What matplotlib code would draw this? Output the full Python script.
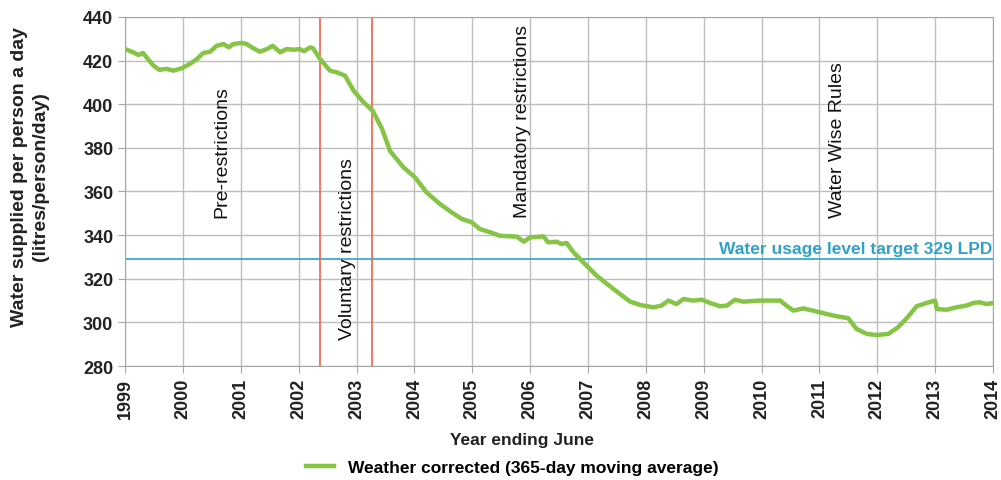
import numpy as np
import matplotlib
matplotlib.use("Agg")
import matplotlib.pyplot as plt

plt.rcParams['font.family'] = ['Liberation Sans', 'DejaVu Sans']

# weather corrected 365-day moving average
years = [1999.00, 1999.14, 1999.23, 1999.31, 1999.37, 1999.49, 1999.59, 1999.72, 1999.83, 1999.98,
         2000.12, 2000.24, 2000.35, 2000.47, 2000.58, 2000.70, 2000.79, 2000.87, 2001.01, 2001.10,
         2001.22, 2001.33, 2001.45, 2001.55, 2001.68, 2001.79, 2001.91, 2002.02, 2002.09, 2002.20,
         2002.25, 2002.37, 2002.54, 2002.66, 2002.80, 2002.95, 2003.12, 2003.28, 2003.44, 2003.58,
         2003.81, 2004.01, 2004.21, 2004.44, 2004.64, 2004.82, 2004.99, 2005.13, 2005.31, 2005.48,
         2005.77, 2005.89, 2006.00, 2006.23, 2006.31, 2006.46, 2006.54, 2006.63, 2006.75, 2006.92,
         2007.15, 2007.44, 2007.73, 2007.90, 2008.13, 2008.27, 2008.39, 2008.53, 2008.65, 2008.82,
         2008.97, 2009.11, 2009.28, 2009.40, 2009.54, 2009.68, 2009.97, 2010.32, 2010.43, 2010.55,
         2010.72, 2010.89, 2011.13, 2011.30, 2011.50, 2011.64, 2011.82, 2011.99, 2012.19, 2012.36,
         2012.51, 2012.68, 2012.85, 2013.00, 2013.03, 2013.20, 2013.37, 2013.54, 2013.66, 2013.77,
         2013.89, 2014.00]
usage = [425.3, 423.8, 422.6, 423.5, 421.5, 417.7, 415.8, 416.2, 415.4, 416.5,
         418.5, 420.7, 423.5, 424.1, 426.8, 427.6, 426.1, 427.6, 428.1, 427.6,
         425.6, 424.1, 425.3, 426.8, 423.8, 425.3, 425.0, 425.3, 424.3, 426.1,
         425.6, 420.7, 415.4, 414.6, 413.1, 406.2, 400.9, 397.0, 388.7, 378.5,
         371.1, 366.5, 359.6, 354.3, 350.5, 347.4, 345.9, 342.8, 341.3, 339.7,
         339.3, 337.0, 339.0, 339.4, 336.7, 337.0, 335.9, 336.4, 332.1, 327.5,
         321.4, 315.3, 309.5, 308.0, 306.9, 307.7, 310.0, 308.4, 310.7, 310.0,
         310.4, 308.9, 307.4, 307.7, 310.4, 309.5, 310.0, 310.0, 307.7, 305.4,
         306.4, 305.4, 303.8, 302.8, 301.9, 297.0, 294.7, 294.2, 294.7, 297.8,
         301.9, 307.4, 308.9, 310.0, 306.1, 305.8, 306.9, 307.7, 308.9, 309.2,
         308.4, 308.9]

target = 329
restriction_lines = [2002.37, 2003.27]
phase_labels = ["Pre-restrictions", "Voluntary restrictions", "Mandatory restrictions", "Water Wise Rules"]
phase_x = [2000.68, 2002.84, 2005.86, 2011.32]
phase_bottom = [348.3, 292.4, 348.3, 348.3]

fig = plt.figure(figsize=(10.01, 4.81), dpi=100)
ax = fig.add_axes([0.125, 0.237, 0.867, 0.7256])

ax.set_xlim(1999, 2014)
ax.set_ylim(280, 440)
ax.set_xticks(range(1999, 2015))
ax.set_yticks(range(280, 441, 20))
ax.grid(True, color='#bdbdbd', linewidth=1)
ax.set_axisbelow(True)
for s in ax.spines.values():
    s.set_color('#a6a6a6')
ax.tick_params(axis='both', color='#a6a6a6', length=5, labelsize=13)
ax.tick_params(axis='x', rotation=90)
for lab in ax.get_xticklabels() + ax.get_yticklabels():
    lab.set_fontweight('bold')
    lab.set_color('#222222')

ax.axhline(target, color='#2ea3c9', linewidth=1.2)
ax.text(2013.99, target + 1.5, "Water usage level target 329 LPD", color='#2ea3c9',
        ha='right', va='bottom', fontsize=12.5, fontweight='bold')

for xv in restriction_lines:
    ax.axvline(xv, color='#f0624a', linewidth=1.2)

for lab, xv, yb in zip(phase_labels, phase_x, phase_bottom):
    ax.text(xv, yb, lab, rotation=90, ha='center', va='bottom', fontsize=14, color='#111111')

ax.plot(years, usage, color='#86c446', linewidth=3.2,
        label="Weather corrected (365-day moving average)")

fig.text(522 / 1001, 1 - 440 / 481, "Year ending June", fontsize=12.5, fontweight='bold',
         ha='center', va='center', color='#222222')
fig.text(30 / 1001, 1 - 177 / 481, "Water supplied per person a day\n(litres/person/day)",
         fontsize=14, fontweight='bold', rotation=90, ha='center', va='center',
         linespacing=1.3, multialignment='center', color='#222222')

fig.legend(loc='center', bbox_to_anchor=(512 / 1001, 1 - 468 / 481), frameon=False,
           prop={'size': 12.5, 'weight': 'bold'}, handlelength=1.6)

plt.savefig('out.png', dpi=100)
